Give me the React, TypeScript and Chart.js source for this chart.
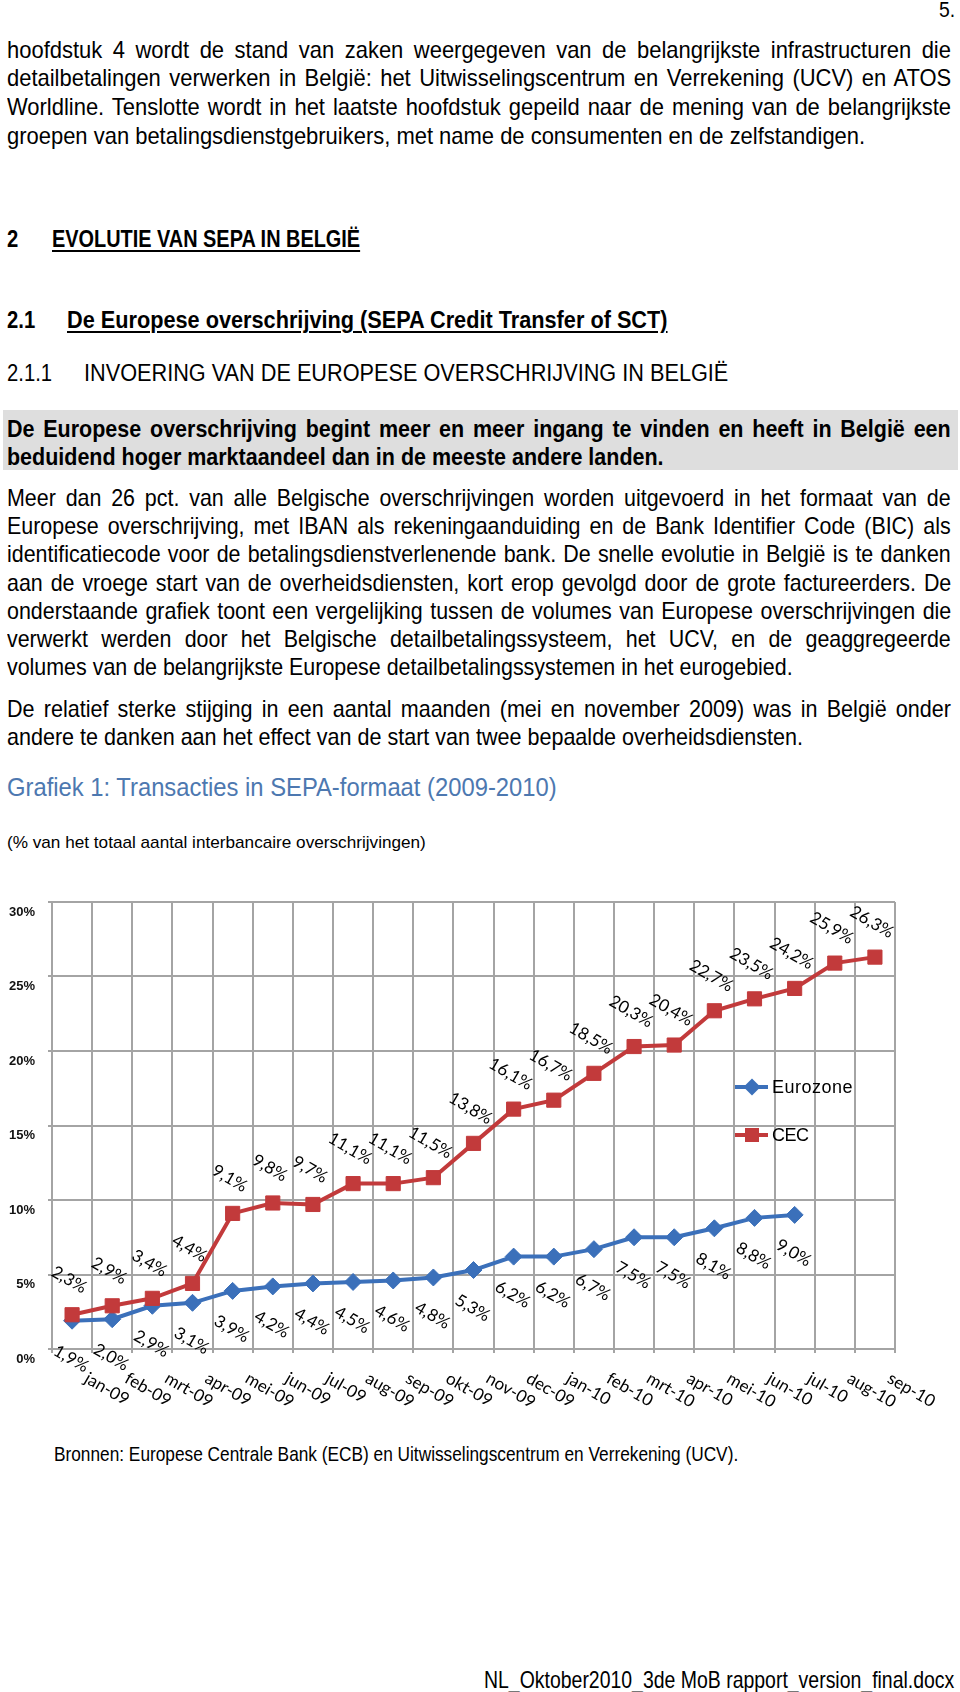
import React, { useEffect, useLayoutEffect, useRef } from 'react';
import { Chart, registerables } from 'chart.js';

Chart.register(...registerables);

// ---------- chart data ----------
const months = ['jan-09', 'feb-09', 'mrt-09', 'apr-09', 'mei-09', 'jun-09', 'jul-09', 'aug-09', 'sep-09', 'okt-09', 'nov-09', 'dec-09', 'jan-10', 'feb-10', 'mrt-10', 'apr-10', 'mei-10', 'jun-10', 'jul-10', 'aug-10', 'sep-10'];
const eurozone = [1.9, 2.0, 2.9, 3.1, 3.9, 4.2, 4.4, 4.5, 4.6, 4.8, 5.3, 6.2, 6.2, 6.7, 7.5, 7.5, 8.1, 8.8, 9.0, null, null];
const cec = [2.3, 2.9, 3.4, 4.4, 9.1, 9.8, 9.7, 11.1, 11.1, 11.5, 13.8, 16.1, 16.7, 18.5, 20.3, 20.4, 22.7, 23.5, 24.2, 25.9, 26.3];
const yTicks = [0, 5, 10, 15, 20, 25, 30];
const seriesNames = ['Eurozone', 'CEC'];

const BLUE = '#3b70ba';
const RED = '#c23a3b';
const GRID = '#a4a4a4';
const FONT = "'Liberation Sans', Arial, Helvetica, sans-serif";
const LABEL_FONT = "17px Lato, 'Open Sans', sans-serif";

const fmt = (v: number) => v.toFixed(1).replace('.', ',') + '%';

function drawMarker(ctx: CanvasRenderingContext2D, kind: string, x: number, y: number, color: string) {
  ctx.save();
  ctx.fillStyle = color;
  ctx.beginPath();
  if (kind === 'diamond') {
    const r = 8.5;
    ctx.moveTo(x, y - r);
    ctx.lineTo(x + r, y);
    ctx.lineTo(x, y + r);
    ctx.lineTo(x - r, y);
    ctx.closePath();
  } else {
    const h = 7;
    ctx.rect(x - h, y - h, 2 * h, 2 * h);
  }
  ctx.fill();
  ctx.restore();
}

const overlayPlugin = {
  id: 'overlayLabels',
  afterDraw(chart: any) {
    const ctx: CanvasRenderingContext2D = chart.ctx;
    const xs = chart.scales.x;
    const ys = chart.scales.y;
    const area = chart.chartArea;
    ctx.save();
    // y axis labels (sit a little below their grid lines, as in the source)
    ctx.font = "bold 13px 'Liberation Sans', Arial, sans-serif";
    ctx.fillStyle = '#111';
    ctx.textAlign = 'right';
    ctx.textBaseline = 'middle';
    yTicks.forEach((v) => {
      ctx.fillText(v + '%', area.left - 17, ys.getPixelForValue(v) + 10);
    });

    ctx.font = LABEL_FONT;
    ctx.fillStyle = '#000';
    // data labels
    chart.data.datasets.forEach((ds: any, di: number) => {
      const meta = chart.getDatasetMeta(di);
      const off = ds.labelOffset as number[];
      meta.data.forEach((pt: any, i: number) => {
        const v = ds.data[i];
        if (v == null) return;
        ctx.save();
        ctx.translate(pt.x + off[0], pt.y + off[1]);
        ctx.rotate(Math.PI / 6);
        ctx.textAlign = 'center';
        ctx.textBaseline = 'middle';
        ctx.fillText(fmt(v), 0, 0);
        ctx.restore();
      });
    });
    // x axis labels (rotated clockwise)
    months.forEach((m, i) => {
      const x = xs.getPixelForValue(i);
      ctx.save();
      ctx.translate(x + 14, area.bottom + 28);
      ctx.rotate(Math.PI / 6);
      ctx.textAlign = 'left';
      ctx.textBaseline = 'middle';
      ctx.fillText(m, 0, 0);
      ctx.restore();
    });
    // legend inside plot
    const lx = area.left + 683;
    const items = [
      { name: seriesNames[0], color: BLUE, kind: 'diamond', y: area.top + 185 },
      { name: seriesNames[1], color: RED, kind: 'square', y: area.top + 233 },
    ];
    items.forEach((it) => {
      ctx.save();
      ctx.strokeStyle = it.color;
      ctx.lineWidth = 4;
      ctx.beginPath();
      ctx.moveTo(lx, it.y);
      ctx.lineTo(lx + 33, it.y);
      ctx.stroke();
      drawMarker(ctx, it.kind, lx + 17, it.y, it.color);
      ctx.font = "18px 'Liberation Sans', Arial, sans-serif";
      (ctx as any).letterSpacing = it.kind === 'diamond' ? '0.5px' : '-0.5px';
      ctx.fillStyle = '#000';
      ctx.textAlign = 'left';
      ctx.textBaseline = 'middle';
      ctx.fillText(it.name, lx + 37, it.y + 1);
      ctx.restore();
    });
    ctx.restore();
  },
};

function SepaChart() {
  const ref = useRef<HTMLCanvasElement | null>(null);
  useEffect(() => {
    if (!ref.current) return;
    const chart = new Chart(ref.current, {
      type: 'line',
      data: {
        labels: months,
        datasets: [
          {
            label: seriesNames[0],
            data: eurozone,
            borderColor: BLUE,
            backgroundColor: BLUE,
            borderWidth: 4,
            pointStyle: 'rectRot',
            pointRadius: 8.5,
            pointBackgroundColor: BLUE,
            pointBorderColor: BLUE,
            pointBorderWidth: 1,
            tension: 0,
            order: 1,
            labelOffset: [-1, 38],
          } as any,
          {
            label: seriesNames[1],
            data: cec,
            borderColor: RED,
            backgroundColor: RED,
            borderWidth: 4,
            pointStyle: 'rect',
            pointRadius: 10,
            pointBackgroundColor: RED,
            pointBorderColor: RED,
            pointBorderWidth: 1,
            tension: 0,
            order: 0,
            labelOffset: [-3, -35],
          } as any,
        ],
      },
      options: {
        animation: false,
        responsive: false,
        devicePixelRatio: 1,
        layout: { padding: { left: 0, right: 65, top: 22, bottom: 0 } },
        plugins: { legend: { display: false }, tooltip: { enabled: false } },
        scales: {
          x: {
            type: 'category',
            offset: true,
            grid: { offset: true, color: GRID, lineWidth: 2, tickLength: 4, drawTicks: true },
            border: { color: GRID, width: 2 },
            ticks: { display: false },
            afterFit: (s: any) => { s.height = 71; },
          },
          y: {
            min: 0,
            max: 30,
            grid: { color: GRID, lineWidth: 2, tickLength: 4 },
            border: { color: GRID, width: 2 },
            afterBuildTicks: (s: any) => { s.ticks = yTicks.map((v) => ({ value: v })); },
            afterFit: (s: any) => { s.width = 52; },
            ticks: { display: false },
          },
        },
      } as any,
      plugins: [overlayPlugin],
    });
    return () => chart.destroy();
  }, []);
  return (
    <canvas ref={ref} width={960} height={540}
      style={{ position: 'absolute', left: 0, top: 880, width: 960, height: 540 }} />
  );
}

// ---------- page text layout ----------
// g = paragraph group; j = justified line; w = target width
type TL = { t: string; x: number; y: number; s: number; w?: number; j?: boolean; b?: boolean; u?: boolean; c?: string; g?: string };

const pageLines: TL[] = [
  { t: '5.', x: 939, y: 10, s: 22 },
  { t: 'hoofdstuk 4 wordt de stand van zaken weergegeven van de belangrijkste infrastructuren die', x: 7, y: 50, s: 24, w: 944, j: true, g: 'p1' },
  { t: 'detailbetalingen verwerken in België: het Uitwisselingscentrum en Verrekening (UCV) en ATOS', x: 7, y: 78.7, s: 24, w: 944, j: true, g: 'p1' },
  { t: 'Worldline. Tenslotte wordt in het laatste hoofdstuk gepeild naar de mening van de belangrijkste', x: 7, y: 107.4, s: 24, w: 944, j: true, g: 'p1' },
  { t: 'groepen van betalingsdienstgebruikers, met name de consumenten en de zelfstandigen.', x: 7, y: 136, s: 24, g: 'p1' },
  { t: '2', x: 7, y: 240, s: 23, b: true },
  { t: 'EVOLUTIE VAN SEPA IN BELGIË', x: 52, y: 240, s: 23, b: true, u: true, w: 308 },
  { t: '2.1', x: 7, y: 321, s: 23, b: true },
  { t: 'De Europese overschrijving (SEPA Credit Transfer of SCT)', x: 67, y: 321, s: 23, b: true, u: true, w: 601 },
  { t: '2.1.1', x: 7, y: 374, s: 23 },
  { t: 'INVOERING VAN DE EUROPESE OVERSCHRIJVING IN BELGIË', x: 84, y: 374, s: 23, w: 644 },
  { t: 'De Europese overschrijving begint meer en meer ingang te vinden en heeft in België een', x: 7, y: 429, s: 24, b: true, w: 944, j: true, g: 'box' },
  { t: 'beduidend hoger marktaandeel dan in de meeste andere landen.', x: 7, y: 457, s: 24, b: true, w: 657, g: 'box' },
  { t: 'Meer dan 26 pct. van alle Belgische overschrijvingen worden uitgevoerd in het formaat van de', x: 7, y: 498, s: 24, w: 944, j: true, g: 'p2' },
  { t: 'Europese overschrijving, met IBAN als rekeningaanduiding en de Bank Identifier Code (BIC) als', x: 7, y: 526.3, s: 24, w: 944, j: true, g: 'p2' },
  { t: 'identificatiecode voor de betalingsdienstverlenende bank. De snelle evolutie in België is te danken', x: 7, y: 554.6, s: 24, w: 944, j: true, g: 'p2' },
  { t: 'aan de vroege start van de overheidsdiensten, kort erop gevolgd door de grote factureerders. De', x: 7, y: 582.9, s: 24, w: 944, j: true, g: 'p2' },
  { t: 'onderstaande grafiek toont een vergelijking tussen de volumes van Europese overschrijvingen die', x: 7, y: 611.2, s: 24, w: 944, j: true, g: 'p2' },
  { t: 'verwerkt werden door het Belgische detailbetalingssysteem, het UCV, en de geaggregeerde', x: 7, y: 639.5, s: 24, w: 944, j: true, g: 'p2' },
  { t: 'volumes van de belangrijkste Europese detailbetalingssystemen in het eurogebied.', x: 7, y: 667.8, s: 24, w: 786, g: 'p2' },
  { t: 'De relatief sterke stijging in een aantal maanden (mei en november 2009) was in België onder', x: 7, y: 709, s: 24, w: 944, j: true, g: 'p3' },
  { t: 'andere te danken aan het effect van de start van twee bepaalde overheidsdiensten.', x: 7, y: 737, s: 24, w: 796, g: 'p3' },
  { t: 'Grafiek 1: Transacties in SEPA-formaat (2009-2010)', x: 7, y: 788, s: 26, w: 550, c: '#4d78b0' },
  { t: '(% van het totaal aantal interbancaire overschrijvingen)', x: 7, y: 843.5, s: 17, w: 419 },
  { t: 'Bronnen: Europese Centrale Bank (ECB) en Uitwisselingscentrum en Verrekening (UCV).', x: 54, y: 1454, s: 21, w: 684 },
  { t: 'NL_Oktober2010_3de MoB rapport_version_final.docx', x: 484, y: 1680, s: 24, w: 470 },
];

export default function App() {
  const root = useRef<HTMLDivElement | null>(null);

  useLayoutEffect(() => {
    if (!root.current) return;
    const nodes = Array.from(root.current.querySelectorAll('span[data-fit]')) as HTMLSpanElement[];
    nodes.forEach((el) => { el.style.transform = ''; el.style.wordSpacing = '0px'; });
    const info = nodes.map((el) => ({
      el,
      nat: el.offsetWidth,
      w: parseFloat(el.dataset.w || '0') || 0,
      j: el.dataset.j === '1',
      g: el.dataset.g || '',
    }));
    const gk: Record<string, number> = {};
    // groups with a fitted (non-justified) last line take their scale from it
    info.forEach((o) => { if (o.g && !o.j && o.w && o.nat) gk[o.g] = o.w / o.nat; });
    // other groups: the tightest justified line defines the scale
    info.forEach((o) => {
      if (o.g && o.j && !(o.g in gk)) {
        const ks = info.filter((p) => p.g === o.g && p.j).map((p) => p.w / p.nat);
        gk[o.g] = Math.min(...ks) * 0.975;
      }
    });
    info.forEach((o) => {
      let s = 0.88;
      if (o.j) {
        s = gk[o.g] ?? 0.88;
        if (o.nat * s > o.w) s = o.w / o.nat;
        const n = (o.el.textContent || '').split(' ').length - 1;
        if (n > 0) o.el.style.wordSpacing = Math.max(0, (o.w / s - o.nat) / n) + 'px';
      } else if (o.w) {
        s = o.w / o.nat;
      } else if (o.g && gk[o.g]) {
        s = gk[o.g];
      }
      o.el.style.transform = `scaleX(${s})`;
    });
  }, []);

  return (
    <div ref={root} style={{ position: 'absolute', left: 0, top: 0, width: 960, height: 1692, background: '#fff', overflow: 'hidden' }}>
      <div style={{ position: 'absolute', left: 3, top: 410, width: 955, height: 60, background: '#dedede' }} />
      {pageLines.map((L, i) => (
        <div key={i} style={{
          position: 'absolute', left: L.x, top: L.y - L.s * 0.6, height: L.s * 1.2,
          lineHeight: L.s * 1.2 + 'px', whiteSpace: 'pre', fontFamily: FONT, fontSize: L.s,
          fontWeight: L.b ? 'bold' : 'normal', color: L.c || '#000',
        }}>
          <span data-fit="1" data-w={L.w || ''} data-j={L.j ? '1' : ''} data-g={L.g || ''}
            style={{
              display: 'inline-block', transformOrigin: '0 50%', whiteSpace: 'pre',
              textDecoration: L.u ? 'underline' : 'none', textDecorationThickness: '2px', textUnderlineOffset: '3px',
            }}>{L.t}</span>
        </div>
      ))}
      <SepaChart />
    </div>
  );
}
